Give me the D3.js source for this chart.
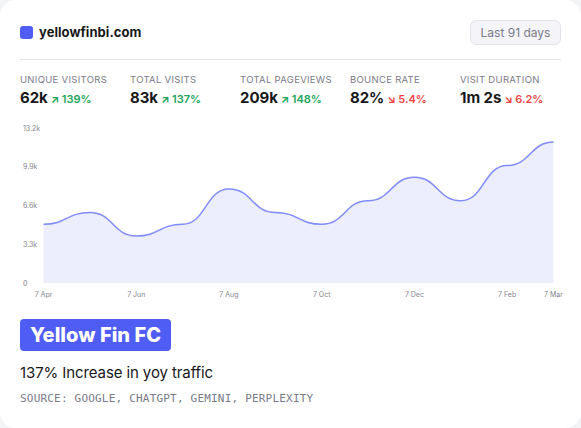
<!DOCTYPE html>
<html>
<head>
<meta charset="utf-8">
<script src="https://cdn.jsdelivr.net/npm/d3@7"></script>
<style>
  html, body { margin: 0; padding: 0; background: #f3f4f6; }
  svg { display: block; font-family: Inter, sans-serif; }
</style>
</head>
<body>
<script>
const months = ['Apr', 'May', 'Jun', 'Jul', 'Aug', 'Sep', 'Oct', 'Nov', 'Dec', 'Jan', 'Feb', 'Mar']
const visitors = [5000, 6000, 4000, 5000, 8000, 6000, 5000, 7000, 9000, 7000, 10000, 12000]
const xTickMonths = ['Apr', 'Jun', 'Aug', 'Oct', 'Dec', 'Feb', 'Mar']
const yTicks = [0, 3300, 6600, 9900, 13200]
const yTickLabels = ['0', '3.3k', '6.6k', '9.9k', '13.2k']

const statLabels = ['UNIQUE VISITORS', 'TOTAL VISITS', 'TOTAL PAGEVIEWS', 'BOUNCE RATE', 'VISIT DURATION']
const statValues = ['62k', '83k', '209k', '82%', '1m 2s']
const statChanges = ['139%', '137%', '148%', '5.4%', '6.2%']
const statUp = [true, true, true, false, false]

const width = 581, height = 428
const accent = '#4f5df5'

const svg = d3.select('body').append('svg').attr('width', width).attr('height', height)

svg.append('rect')
  .attr('width', width).attr('height', height)
  .attr('rx', 16)
  .attr('fill', '#fff')

// header
svg.append('rect')
  .attr('x', 20).attr('y', 26).attr('width', 13).attr('height', 13).attr('rx', 3)
  .attr('fill', accent)
svg.append('text')
  .attr('x', 39).attr('y', 37)
  .attr('font-size', 13).attr('font-weight', 700).attr('fill', '#18181b')
  .attr('letter-spacing', 0.05)
  .text('yellowfinbi.com')

svg.append('rect')
  .attr('x', 470.5).attr('y', 20.5).attr('width', 90).attr('height', 24).attr('rx', 6)
  .attr('fill', '#f4f4f9').attr('stroke', '#e1e2ea')
svg.append('text')
  .attr('x', 515.5).attr('y', 37)
  .attr('text-anchor', 'middle')
  .attr('font-size', 12).attr('fill', '#7a7a88')
  .text('Last 91 days')

svg.append('line')
  .attr('x1', 20).attr('x2', 561).attr('y1', 59.5).attr('y2', 59.5)
  .attr('stroke', '#e4e4e7')

// stats row
const stat = svg.selectAll('.stat')
  .data(statLabels)
  .enter()
  .append('g')
  .attr('class', 'stat')
  .attr('transform', (d, i) => `translate(${20 + i * 110},0)`)

stat.append('text')
  .attr('y', 83)
  .attr('font-size', 9.5)
  .attr('letter-spacing', 0.3)
  .attr('fill', '#7a7a88')
  .text(d => d)

stat.each(function(d, i) {
  const g = d3.select(this)
  const value = g.append('text')
    .attr('y', 103)
    .attr('font-size', 15).attr('font-weight', 700).attr('fill', '#18181b')
    .attr('letter-spacing', -0.05)
    .text(statValues[i])
  const w = value.node().getComputedTextLength()
  g.append('text')
    .attr('x', w + 3).attr('y', 103)
    .attr('font-size', 11).attr('font-weight', 700)
    .attr('fill', statUp[i] ? '#22a45d' : '#ef4444')
    .text(statUp[i] ? '↗' : '↘')
  g.append('text')
    .attr('x', w + 14).attr('y', 103)
    .attr('font-size', 11).attr('font-weight', 600)
    .attr('fill', statUp[i] ? '#22a45d' : '#ef4444')
    .text(statChanges[i])
})

// chart
const x = d3.scalePoint().domain(months).range([43.5, 553.5])
const y = d3.scaleLinear().domain([0, 13200]).range([283, 128])

const area = d3.area()
  .x((d, i) => x(months[i]))
  .y0(y(0))
  .y1(d => y(d))
  .curve(d3.curveBumpX)

svg.append('path')
  .datum(visitors)
  .attr('d', area)
  .attr('fill', '#eceefd')

svg.append('path')
  .datum(visitors)
  .attr('d', area.lineY1())
  .attr('fill', 'none')
  .attr('stroke', '#818cf8')
  .attr('stroke-width', 1.5)

svg.selectAll('.y-label')
  .data(yTicks)
  .enter()
  .append('text')
  .attr('class', 'y-label')
  .attr('x', 23)
  .attr('y', d => y(d) + 2.5)
  .attr('font-size', 7).attr('fill', '#85858d')
  .text((d, i) => yTickLabels[i])

svg.selectAll('.x-label')
  .data(xTickMonths)
  .enter()
  .append('text')
  .attr('class', 'x-label')
  .attr('x', d => x(d))
  .attr('y', 297)
  .attr('text-anchor', 'middle')
  .attr('font-size', 7).attr('fill', '#85858d')
  .text(d => '7 ' + d)

// title block
svg.append('rect')
  .attr('x', 20).attr('y', 319).attr('width', 151).attr('height', 32).attr('rx', 4)
  .attr('fill', accent)
svg.append('text')
  .attr('x', 30).attr('y', 342)
  .attr('font-size', 20).attr('font-weight', 800).attr('fill', '#fff')
  .attr('letter-spacing', 0.03)
  .text('Yellow Fin FC')

svg.append('text')
  .attr('x', 20).attr('y', 377.5)
  .attr('font-size', 15).attr('fill', '#18181b')
  .attr('letter-spacing', -0.1)
  .text('137% Increase in yoy traffic')

svg.append('text')
  .attr('x', 20).attr('y', 402)
  .attr('font-family', '"DejaVu Sans Mono", monospace')
  .attr('font-size', 11)
  .attr('letter-spacing', 0.2)
  .attr('fill', '#7a7a88')
  .text('SOURCE: GOOGLE, CHATGPT, GEMINI, PERPLEXITY')
</script>
</body>
</html>
